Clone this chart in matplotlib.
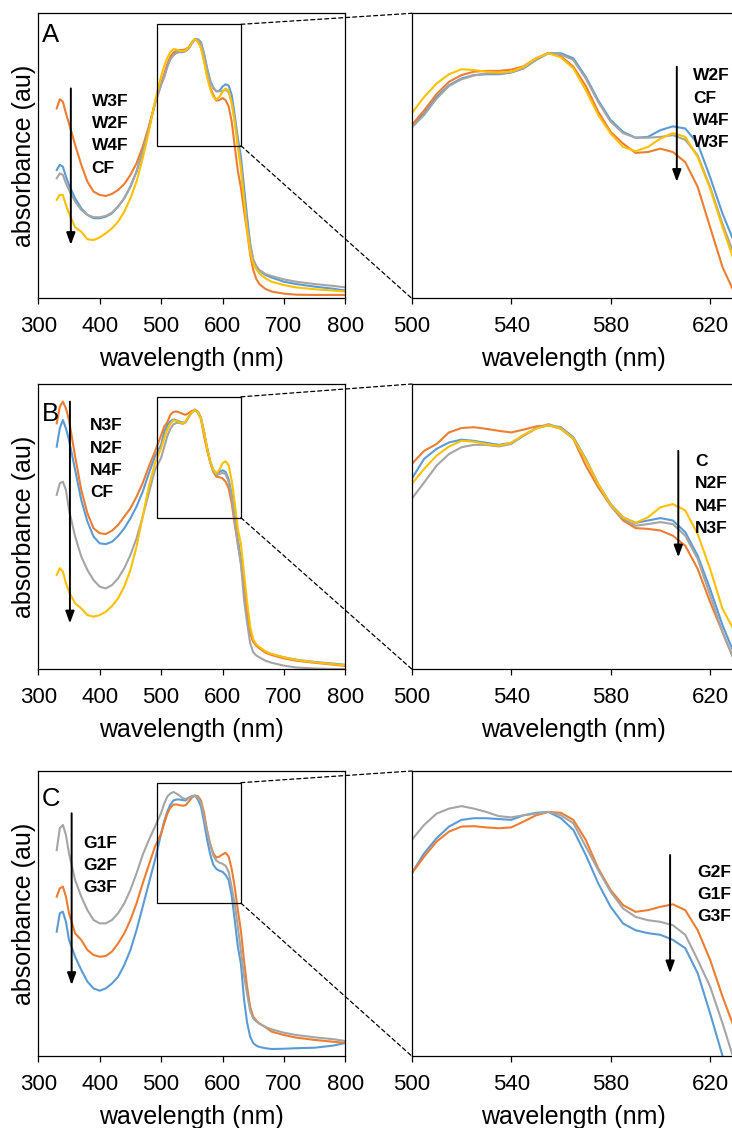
import matplotlib
matplotlib.use("Agg")
import matplotlib.pyplot as plt
from matplotlib.patches import Rectangle, ConnectionPatch, ArrowStyle

plt.rcParams['font.family'] = ['Liberation Sans', 'DejaVu Sans']

# wavelength grid (nm)
WL = [330, 335, 340, 345, 350, 360, 370, 380, 390, 400, 410, 420, 430, 440, 450, 460, 470, 480, 490,
      500, 505, 510, 515, 520, 525, 530, 535, 540, 545, 550, 555, 560, 565, 570, 575, 580, 585,
      590, 595, 600, 605, 610, 615, 620, 625, 630,
      635, 640, 645, 650, 655, 660, 670, 680, 700, 720, 750, 780, 800]

# ---- panel A: W-series films ----
A_W2F = [0.495, 0.515, 0.508, 0.470, 0.437, 0.386, 0.347, 0.322, 0.309, 0.309, 0.315, 0.328, 0.354, 0.386, 0.431, 0.489, 0.566, 0.656, 0.753,
         0.826, 0.857, 0.896, 0.924, 0.940, 0.948, 0.950, 0.950, 0.954, 0.964, 0.984, 1.000, 1.000, 0.988, 0.944, 0.888, 0.841, 0.813,
         0.799, 0.801, 0.817, 0.826, 0.821, 0.785, 0.705, 0.618, 0.546,
         0.431, 0.315, 0.212, 0.148, 0.122, 0.107, 0.090, 0.080, 0.064, 0.055, 0.045, 0.037, 0.030]
A_W3F = [0.733, 0.768, 0.759, 0.714, 0.675, 0.592, 0.515, 0.450, 0.412, 0.399, 0.395, 0.403, 0.418, 0.441, 0.476, 0.521, 0.585, 0.663, 0.753,
         0.829, 0.864, 0.903, 0.932, 0.948, 0.956, 0.958, 0.958, 0.961, 0.969, 0.988, 1.001, 0.993, 0.968, 0.922, 0.861, 0.813, 0.785,
         0.763, 0.765, 0.773, 0.765, 0.741, 0.682, 0.586, 0.491, 0.427,
         0.340, 0.260, 0.170, 0.110, 0.075, 0.055, 0.036, 0.026, 0.018, 0.014, 0.013, 0.013, 0.013]
A_W4F = [0.463, 0.482, 0.476, 0.444, 0.418, 0.373, 0.341, 0.322, 0.313, 0.313, 0.318, 0.331, 0.354, 0.386, 0.431, 0.489, 0.566, 0.654, 0.750,
         0.823, 0.853, 0.892, 0.922, 0.938, 0.947, 0.952, 0.952, 0.955, 0.964, 0.985, 1.000, 0.997, 0.984, 0.940, 0.884, 0.837, 0.810,
         0.799, 0.799, 0.801, 0.805, 0.794, 0.757, 0.682, 0.594, 0.515,
         0.392, 0.289, 0.206, 0.151, 0.125, 0.109, 0.094, 0.086, 0.073, 0.064, 0.055, 0.048, 0.042]
A_CF = [0.380, 0.399, 0.399, 0.360, 0.328, 0.274, 0.257, 0.228, 0.225, 0.235, 0.251, 0.270, 0.296, 0.334, 0.386, 0.450, 0.540, 0.643, 0.760,
        0.857, 0.896, 0.928, 0.950, 0.962, 0.960, 0.956, 0.954, 0.956, 0.968, 0.988, 1.000, 0.990, 0.964, 0.912, 0.853, 0.809, 0.777,
        0.767, 0.777, 0.797, 0.810, 0.801, 0.753, 0.678, 0.586, 0.499,
        0.380, 0.264, 0.180, 0.135, 0.112, 0.096, 0.077, 0.064, 0.051, 0.042, 0.035, 0.030, 0.026]

# ---- panel B: N-series films ----
B_N2F = [0.858, 0.929, 0.961, 0.929, 0.884, 0.768, 0.652, 0.569, 0.511, 0.485, 0.482, 0.491, 0.513, 0.543, 0.581, 0.627, 0.684, 0.755, 0.820,
         0.865, 0.915, 0.940, 0.956, 0.963, 0.960, 0.955, 0.950, 0.955, 0.973, 0.991, 0.999, 0.994, 0.969, 0.915, 0.852, 0.802, 0.769,
         0.755, 0.761, 0.767, 0.761, 0.732, 0.673, 0.590, 0.499, 0.424,
         0.330, 0.225, 0.145, 0.108, 0.092, 0.082, 0.066, 0.057, 0.045, 0.036, 0.027, 0.021, 0.016]
B_N3F = [0.948, 1.012, 1.032, 1.006, 0.961, 0.820, 0.691, 0.601, 0.543, 0.524, 0.521, 0.534, 0.556, 0.588, 0.620, 0.665, 0.717, 0.781, 0.839,
         0.902, 0.935, 0.952, 0.981, 0.992, 0.994, 0.990, 0.985, 0.981, 0.988, 0.996, 0.999, 0.990, 0.965, 0.898, 0.844, 0.798, 0.761,
         0.742, 0.740, 0.736, 0.723, 0.698, 0.640, 0.557, 0.482, 0.407,
         0.310, 0.215, 0.138, 0.105, 0.090, 0.080, 0.063, 0.054, 0.041, 0.032, 0.024, 0.017, 0.012]
B_N4F = [0.672, 0.717, 0.723, 0.691, 0.614, 0.511, 0.434, 0.382, 0.343, 0.318, 0.311, 0.324, 0.350, 0.389, 0.440, 0.504, 0.588, 0.678, 0.768,
         0.815, 0.856, 0.898, 0.927, 0.944, 0.950, 0.950, 0.946, 0.952, 0.973, 0.991, 1.002, 0.991, 0.965, 0.913, 0.852, 0.798, 0.765,
         0.748, 0.752, 0.757, 0.752, 0.723, 0.665, 0.574, 0.482, 0.407,
         0.270, 0.180, 0.100, 0.065, 0.052, 0.045, 0.032, 0.024, 0.013, 0.006, 0.002, 0.000, 0.000]
B_CF = [0.363, 0.389, 0.376, 0.331, 0.298, 0.253, 0.234, 0.208, 0.202, 0.208, 0.221, 0.243, 0.273, 0.318, 0.382, 0.472, 0.588, 0.704, 0.794,
        0.852, 0.890, 0.923, 0.946, 0.960, 0.958, 0.952, 0.948, 0.955, 0.975, 0.991, 0.999, 0.991, 0.966, 0.913, 0.852, 0.800, 0.769,
        0.755, 0.769, 0.794, 0.802, 0.786, 0.727, 0.640, 0.540, 0.482,
        0.370, 0.260, 0.165, 0.115, 0.095, 0.085, 0.068, 0.058, 0.045, 0.035, 0.026, 0.019, 0.014]

# ---- panel C: G-series films ----
C_G1F = [0.795, 0.879, 0.892, 0.853, 0.782, 0.679, 0.615, 0.563, 0.525, 0.512, 0.512, 0.525, 0.551, 0.589, 0.641, 0.705, 0.776, 0.834, 0.885,
         0.938, 0.974, 1.001, 1.013, 1.019, 1.013, 1.005, 0.995, 0.992, 0.997, 1.001, 1.005, 0.997, 0.978, 0.922, 0.866, 0.814, 0.774,
         0.754, 0.746, 0.742, 0.734, 0.711, 0.651, 0.587, 0.499, 0.404,
         0.310, 0.240, 0.175, 0.145, 0.133, 0.125, 0.112, 0.103, 0.090, 0.081, 0.072, 0.065, 0.058]
C_G2F = [0.615, 0.647, 0.654, 0.615, 0.551, 0.473, 0.448, 0.409, 0.390, 0.383, 0.386, 0.403, 0.435, 0.473, 0.525, 0.589, 0.666, 0.737, 0.808,
         0.858, 0.898, 0.934, 0.958, 0.970, 0.971, 0.968, 0.966, 0.968, 0.982, 0.997, 1.005, 1.003, 0.986, 0.938, 0.870, 0.818, 0.782,
         0.766, 0.770, 0.778, 0.784, 0.770, 0.722, 0.651, 0.563, 0.483,
         0.370, 0.268, 0.190, 0.152, 0.137, 0.126, 0.111, 0.094, 0.081, 0.071, 0.062, 0.055, 0.051]
C_G3F = [0.480, 0.551, 0.557, 0.518, 0.448, 0.383, 0.332, 0.287, 0.261, 0.252, 0.261, 0.280, 0.306, 0.351, 0.409, 0.486, 0.576, 0.666, 0.756,
         0.858, 0.906, 0.942, 0.970, 0.986, 0.990, 0.990, 0.988, 0.986, 0.997, 1.003, 1.005, 0.990, 0.962, 0.902, 0.834, 0.778, 0.738,
         0.722, 0.715, 0.711, 0.699, 0.679, 0.619, 0.523, 0.421, 0.356,
         0.220, 0.130, 0.075, 0.050, 0.040, 0.035, 0.030, 0.027, 0.028, 0.030, 0.032, 0.040, 0.050]

BLUE, ORANGE, GRAY, YELLOW = '#5B9BD5', '#ED7D31', '#A5A5A5', '#FFC000'

LEFT_TICKS = [300, 400, 500, 600, 700, 800]
RIGHT_TICKS = [500, 540, 580, 620]

# per-row settings
rows = [
    dict(letter='A', top=13.3, letter_y=0.965,
         series=[(A_W2F, BLUE), (A_W3F, ORANGE), (A_W4F, GRAY), (A_CF, YELLOW)],
         zoom_ylim=(0.417, 1.095), box=(494, 630, 0.589, 1.0575),
         left_arrow=(353, 0.810, 0.206), left_text=(387, 0.79, "W3F\nW2F\nW4F\nCF"),
         right_arrow=(606.6, 0.968, 0.694), right_text=(613.3, 0.964, "W2F\nCF\nW4F\nW3F")),
    dict(letter='B', top=384.0, letter_y=0.936,
         series=[(B_N2F, BLUE), (B_N3F, ORANGE), (B_N4F, GRAY), (B_CF, YELLOW)],
         zoom_ylim=(0.390, 1.102), box=(494, 630, 0.584, 1.0505),
         left_arrow=(351.5, 1.032, 0.176), left_text=(384, 0.967, "N3F\nN2F\nN4F\nCF"),
         right_arrow=(607.2, 0.935, 0.669), right_text=(613.9, 0.927, "C\nN2F\nN4F\nN3F")),
    dict(letter='C', top=771.0, letter_y=0.945,
         series=[(C_G3F, BLUE), (C_G2F, ORANGE), (C_G1F, GRAY)],
         zoom_ylim=(0.421, 1.103), box=(494, 630, 0.590, 1.055),
         left_arrow=(354.3, 0.937, 0.274), left_text=(373.4, 0.850, "G1F\nG2F\nG3F"),
         right_arrow=(603.9, 0.902, 0.619), right_text=(614.9, 0.879, "G2F\nG1F\nG3F")),
]

W, H = 732, 1128
AX_H = 285.0


def box(x0, top, w, h):
    return [x0 / W, 1 - (top + h) / H, w / W, h / H]


fig = plt.figure(figsize=(W / 100, H / 100), dpi=100)
arrow_style = ArrowStyle('-|>', head_length=0.6, head_width=0.22)


def add_arrow(ax, x, y0, y1):
    ax.annotate('', xy=(x, y1), xytext=(x, y0),
                arrowprops=dict(arrowstyle=arrow_style, color='black', lw=1.4,
                                mutation_scale=12, shrinkA=0, shrinkB=0))


def style_axes(ax):
    for s in ax.spines.values():
        s.set_linewidth(0.9)
        s.set_color('black')
    ax.set_yticks([])
    ax.tick_params(axis='x', direction='out', length=4, width=0.9, pad=9,
                   labelsize=16, colors='black')
    ax.set_xlabel('wavelength (nm)', fontsize=18, labelpad=7)


for row in rows:
    axL = fig.add_axes(box(38.3, row['top'], 307.0, AX_H))
    axR = fig.add_axes(box(411.7, row['top'], 323.3, AX_H))

    for vals, color in row['series']:
        assert len(vals) == len(WL)
        axL.plot(WL, vals, color=color, lw=1.5)
        axR.plot(WL, vals, color=color, lw=1.5)

    axL.set_xlim(300, 800)
    axL.set_ylim(0, 1.1)
    axL.set_xticks(LEFT_TICKS)
    style_axes(axL)
    axL.set_ylabel('absorbance (au)', fontsize=18, labelpad=2)

    axR.set_xlim(500, 630)
    axR.set_ylim(*row['zoom_ylim'])
    axR.set_xticks(RIGHT_TICKS)
    style_axes(axR)
    axR.spines['right'].set_visible(False)

    # panel letter
    axL.text(0.012, row['letter_y'], row['letter'], transform=axL.transAxes,
             fontsize=18.5, va='top', ha='left')

    # zoom box and connectors
    x0, x1, y0, y1 = row['box']
    axL.add_patch(Rectangle((x0, y0), x1 - x0, y1 - y0, fill=False,
                            ec='black', lw=0.9, zorder=5))
    for yy, corner in ((y1, (0, 1)), (y0, (0, 0))):
        con = ConnectionPatch(xyA=(x1, yy), coordsA=axL.transData,
                              xyB=corner, coordsB=axR.transAxes,
                              color='black', lw=0.9, linestyle=(0, (3.2, 2.4)))
        fig.add_artist(con)

    # trend arrows and sample labels
    ax_, ay0, ay1 = row['left_arrow']
    add_arrow(axL, ax_, ay0, ay1)
    tx, ty, txt = row['left_text']
    axL.text(tx, ty, txt, fontsize=12.5, fontweight='bold', va='top', ha='left',
             linespacing=1.61)

    ax_, ay0, ay1 = row['right_arrow']
    add_arrow(axR, ax_, ay0, ay1)
    tx, ty, txt = row['right_text']
    axR.text(tx, ty, txt, fontsize=12.5, fontweight='bold', va='top', ha='left',
             linespacing=1.61, clip_on=False)

fig.savefig('out.png', dpi=100)
